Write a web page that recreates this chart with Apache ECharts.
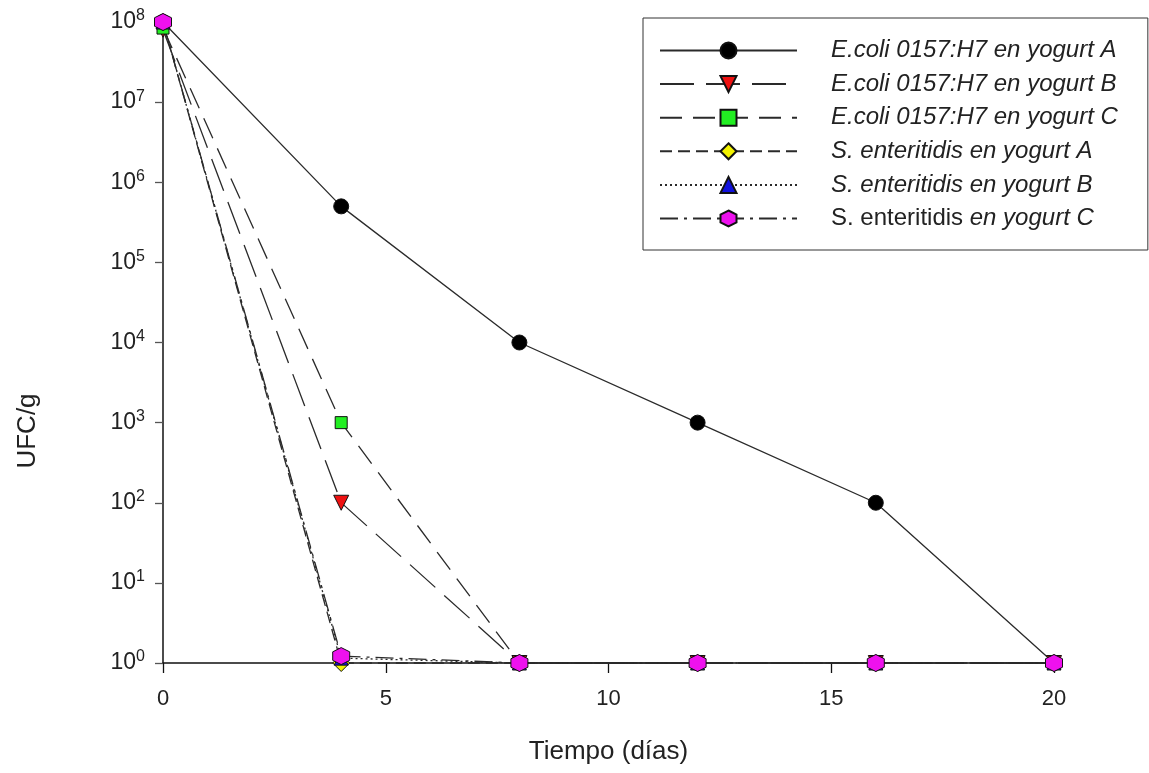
<!DOCTYPE html>
<html>
<head>
<meta charset="utf-8">
<script src="https://cdn.jsdelivr.net/npm/echarts@6/dist/echarts.min.js"></script>
<style>
    html, body { margin: 0; padding: 0; background: #fff; }
    #myChart { width: 1149px; height: 773px; }
</style>
</head>
<body>
<div id="myChart"></div>
<script>
// dias de muestreo
var dias = [0, 4, 8, 12, 16, 20];
// UFC/g por serie
var ecoliA = [1e8, 5e5, 1e4, 1e3, 100, 1];
var ecoliB = [8e7, 100, 1, 1, 1, 1];
var ecoliC = [8.4e7, 1000, 1, 1, 1, 1];
var salA = [1e8, 1.0, 1, 1, 1, 1];
var salB = [1e8, 1.15, 1, 1, 1, 1];
var salC = [1e8, 1.22, 1, 1, 1, 1];
var nombres = [
    'E.coli 0157:H7 en yogurt A',
    'E.coli 0157:H7 en yogurt B',
    'E.coli 0157:H7 en yogurt C',
    'S. enteritidis en yogurt A',
    'S. enteritidis en yogurt B',
    'S. enteritidis en yogurt C'
];
var xTicks = [0, 5, 10, 15, 20];

var hexagono = 'path://M0,-1L0.866,-0.5L0.866,0.5L0,1L-0.866,0.5L-0.866,-0.5Z';

function pares(vals) {
    return dias.map(function (d, i) { return [d, vals[i]]; });
}

function serie(name, vals, dash, symbol, size, color, rot) {
    return {
        name: name,
        type: 'line',
        data: pares(vals),
        symbol: symbol,
        symbolSize: size,
        symbolRotate: rot || 0,
        showAllSymbol: true,
        clip: false,
        lineStyle: { color: '#2a2a2a', width: 1.3, type: dash },
        itemStyle: { color: color, borderColor: '#111', borderWidth: 1 },
        emphasis: { disabled: true }
    };
}

var myChart = echarts.init(document.getElementById('myChart'));
myChart.setOption({
    animation: false,
    backgroundColor: '#fff',
    textStyle: { fontFamily: 'Liberation Sans, Arial, sans-serif', color: '#222' },
    grid: { left: 163, right: 95, top: 22, bottom: 110, containLabel: false },
    legend: {
        orient: 'vertical',
        left: 643,
        top: 18,
        padding: [20, 30, 19, 16],
        backgroundColor: '#fff',
        borderColor: '#333',
        borderWidth: 1,
        borderRadius: 0,
        itemWidth: 137,
        itemHeight: 20,
        itemGap: 8.6,
        data: nombres,
        formatter: function (name) {
            if (name === nombres[5]) {
                return '{n|S. enteritidis} {i|en yogurt C}';
            }
            return '{i|' + name + '}';
        },
        textStyle: {
            fontSize: 24,
            lineHeight: 25,
            color: '#222',
            padding: [0, 0, 0, 29],
            rich: {
                i: { fontSize: 24, fontStyle: 'italic', color: '#222', fontFamily: 'Liberation Sans, Arial, sans-serif' },
                n: { fontSize: 24, fontStyle: 'normal', color: '#222', fontFamily: 'Liberation Sans, Arial, sans-serif' }
            }
        }
    },
    xAxis: {
        type: 'value',
        min: 0,
        max: 20,
        interval: 5,
        name: 'Tiempo (días)',
        nameLocation: 'middle',
        nameGap: 76,
        nameTextStyle: { fontSize: 26, color: '#222' },
        axisLine: { lineStyle: { color: '#111', width: 1.5 } },
        axisTick: { show: true, inside: false, length: 10, lineStyle: { color: '#111', width: 1.3 } },
        axisLabel: {
            fontSize: 22,
            color: '#222',
            margin: 25,
            formatter: function (v) { return xTicks.indexOf(v) >= 0 ? String(v) : ''; }
        },
        splitLine: { show: false }
    },
    yAxis: {
        type: 'log',
        logBase: 10,
        min: 1,
        max: 1e8,
        interval: 1,
        axisLine: { show: true, lineStyle: { color: '#111', width: 1.5 } },
        axisTick: { show: true, inside: false, length: 8, lineStyle: { color: '#555', width: 1.3 } },
        axisLabel: {
            margin: 18,
            color: '#222',
            formatter: function (v) {
                var e = Math.round(Math.log10(v));
                return '{b|10}{s|' + e + '}';
            },
            rich: {
                b: { fontSize: 23, lineHeight: 28, color: '#222' },
                s: { fontSize: 16, lineHeight: 16, verticalAlign: 'top', color: '#222' }
            }
        },
        splitLine: { show: false },
        minorTick: { show: false }
    },
    graphic: [{
        type: 'text',
        x: 28,
        y: 431,
        rotation: Math.PI / 2,
        style: {
            text: 'UFC/g',
            fontSize: 26,
            fontFamily: 'Liberation Sans, Arial, sans-serif',
            fill: '#222',
            align: 'center',
            verticalAlign: 'middle'
        }
    }],
    series: [
        serie(nombres[0], ecoliA, 'solid', 'circle', 15, '#000000'),
        serie(nombres[1], ecoliB, [34, 12], 'triangle', 15, '#ee1111', 180),
        serie(nombres[2], ecoliC, [22, 11], 'rect', 12, '#22ee22'),
        serie(nombres[3], salA, [12, 6], 'diamond', 17, '#f2f200'),
        serie(nombres[4], salB, [2, 3], 'triangle', 14, '#1111dd'),
        serie(nombres[5], salC, [18, 6, 3, 6], hexagono, 17, '#ee11ee')
    ]
});
</script>
</body>
</html>
